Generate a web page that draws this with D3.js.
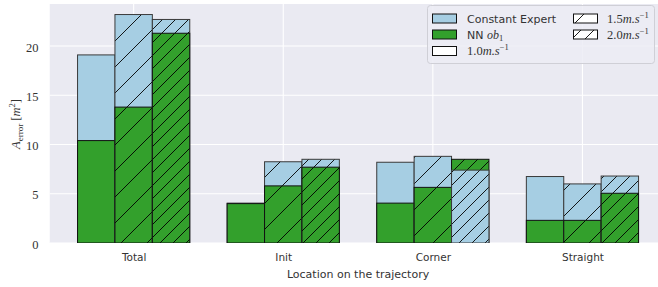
<!DOCTYPE html>
<html lang="en">
<head>
<meta charset="utf-8">
<title>A error by location</title>
<script src="https://cdn.jsdelivr.net/npm/d3@7"></script>
<style>
  body { margin: 0; background: #fff; }
  .serif { font-family: "Liberation Serif", "DejaVu Serif", serif; }
  .sans { font-family: "DejaVu Sans", "Open Sans", sans-serif; }
</style>
</head>
<body>
<div id="chart"></div>
<script>
// categories along x
let categories = ["Total", "Init", "Corner", "Straight"]
let speeds = ["1.0", "1.5", "2.0"]
let yTicks = [0, 5, 10, 15, 20]

// Constant Expert values, one array per speed
let expert10 = [19.1, 4.05, 8.2, 6.75]
let expert15 = [23.2, 8.25, 8.8, 6.0]
let expert20 = [22.7, 8.5, 7.4, 6.8]

// NN ob1 values, one array per speed
let nn10 = [10.4, 4.0, 4.05, 2.3]
let nn15 = [13.8, 5.8, 5.65, 2.3]
let nn20 = [21.3, 7.7, 8.5, 5.05]

let expert = [expert10, expert15, expert20]
let nn = [nn10, nn15, nn20]

let w = 658
let h = 287
let pLeft = 49.5, pTop = 4, pBottom = 243

let svg = d3.select("#chart").append("svg")
    .attr("width", w)
    .attr("height", h)

let x = d3.scaleLinear()
    .domain([-0.5625, 3.5625])
    .range([pLeft, pLeft + 4.125 * 149.6])
let y = d3.scaleLinear()
    .domain([0, 24.27])
    .range([pBottom, pTop])
let bw = x(0.25) - x(0)

// hatch patterns, '/' and '//'
let defs = svg.append("defs")
function hatch(id, p) {
  let pat = defs.append("pattern")
      .attr("id", id)
      .attr("patternUnits", "userSpaceOnUse")
      .attr("width", p).attr("height", p)
  pat.append("path")
      .attr("d", `M0,${p} L${p},0 M-2,2 L2,-2 M${p - 2},${p + 2} L${p + 2},${p - 2}`)
      .attr("stroke", "#000")
      .attr("stroke-width", 0.9)
}
hatch("h15", 26)
hatch("h20", 13)
let hatchFor = [null, "url(#h15)", "url(#h20)"]

defs.append("clipPath").attr("id", "plot")
  .append("rect").attr("x", pLeft).attr("y", pTop)
  .attr("width", w - pLeft).attr("height", pBottom - pTop)

let g = svg.append("g").attr("clip-path", "url(#plot)")
g.append("rect")
    .attr("x", pLeft).attr("y", pTop)
    .attr("width", w - pLeft).attr("height", pBottom - pTop)
    .attr("fill", "#eaeaf2")

// grid
g.selectAll(".hg").data(yTicks).enter().append("line")
    .attr("x1", pLeft).attr("x2", w)
    .attr("y1", d => y(d)).attr("y2", d => y(d))
    .attr("stroke", "#fff").attr("stroke-width", 1.1)
g.selectAll(".vg").data(categories).enter().append("line")
    .attr("x1", (d, i) => x(i)).attr("x2", (d, i) => x(i))
    .attr("y1", pTop).attr("y2", pBottom)
    .attr("stroke", "#fff").attr("stroke-width", 1.1)

// build bars: for each category & speed, two overlapping bars, taller one drawn first
let bars = []
categories.forEach(function(c, i) {
  speeds.forEach(function(s, j) {
    let pair = [
      {v: expert[j][i], fill: "#a6cee3", edge: "#3a3a3a"},
      {v: nn[j][i], fill: "#33a02c", edge: "#111"}
    ]
    pair.sort((a, b) => b.v - a.v)
    pair.forEach(p => bars.push({i: i, j: j, v: p.v, fill: p.fill, edge: p.edge}))
  })
})

bars.forEach(function(d) {
  let bx = x(d.i + (d.j - 1) * 0.25) - bw / 2
  let by = y(d.v)
  let bh = y(0) - y(d.v)
  g.append("rect")
      .attr("x", bx).attr("y", by).attr("width", bw).attr("height", bh)
      .attr("fill", d.fill)
  if (hatchFor[d.j]) {
    g.append("rect")
        .attr("x", bx).attr("y", by).attr("width", bw).attr("height", bh)
        .attr("fill", hatchFor[d.j])
  }
  g.append("rect")
      .attr("x", bx).attr("y", by).attr("width", bw).attr("height", bh)
      .attr("fill", "none")
      .attr("stroke", d.edge).attr("stroke-width", 1)
})

// axes
let yAxis = svg.append("g")
    .attr("transform", `translate(${pLeft},0)`)
    .call(d3.axisLeft(y).tickValues(yTicks).tickSize(0).tickPadding(11))
yAxis.select(".domain").remove()
yAxis.selectAll("text").attr("class", "serif").attr("font-size", 12.5).attr("fill", "#333")
    .attr("dy", "0.4em")
yAxis.attr("font-family", null)

let xAxis = svg.append("g")
    .attr("transform", `translate(0,${pBottom})`)
    .call(d3.axisBottom(x).tickValues([0, 1, 2, 3]).tickFormat(i => categories[i]).tickSize(0).tickPadding(11))
xAxis.select(".domain").remove()
xAxis.selectAll("text").attr("class", "sans").attr("font-size", 10.5).attr("fill", "#333")
xAxis.attr("font-family", null)

svg.append("text")
    .attr("class", "sans")
    .attr("x", x(1.5)).attr("y", 278)
    .attr("text-anchor", "middle")
    .attr("font-size", 11).attr("fill", "#333")
    .text("Location on the trajectory")

let yl = svg.append("text")
    .attr("class", "serif")
    .attr("transform", "translate(20,124) rotate(-90)")
    .attr("text-anchor", "middle")
    .attr("font-size", 12.5).attr("fill", "#333")
yl.append("tspan").attr("font-style", "italic").text("A")
yl.append("tspan").attr("font-size", 9).attr("dy", 2.5).text("error")
yl.append("tspan").attr("dy", -2.5).text(" [")
yl.append("tspan").attr("font-style", "italic").text("m")
yl.append("tspan").attr("font-size", 8.5).attr("dy", -5).text("2")
yl.append("tspan").attr("dy", 5).text("]")

// legend
let lg = svg.append("g")
lg.append("rect")
    .attr("x", 427.5).attr("y", 5.5).attr("width", 227).attr("height", 58)
    .attr("rx", 3)
    .attr("fill", "rgba(236,236,244,0.85)")
    .attr("stroke", "#cfcfd6")

let legendItems = [
  {col: 0, row: 0, fill: "#a6cee3", hatch: null, label: "Constant Expert"},
  {col: 0, row: 1, fill: "#33a02c", hatch: null, label: "nn"},
  {col: 0, row: 2, fill: "#fff", hatch: null, label: "1.0"},
  {col: 1, row: 0, fill: "#fff", hatch: "url(#h15)", label: "1.5"},
  {col: 1, row: 1, fill: "#fff", hatch: "url(#h20)", label: "2.0"}
]
let rowY = [18.5, 34.5, 51]
legendItems.forEach(function(it) {
  let px = it.col === 0 ? 432.5 : 573.5
  let py = rowY[it.row] - 4.5
  lg.append("rect").attr("x", px).attr("y", py).attr("width", 24).attr("height", 9)
      .attr("fill", it.fill)
  if (it.hatch) {
    lg.append("rect").attr("x", px).attr("y", py).attr("width", 24).attr("height", 9)
        .attr("fill", it.hatch)
  }
  lg.append("rect").attr("x", px).attr("y", py).attr("width", 24).attr("height", 9)
      .attr("fill", "none").attr("stroke", "#111").attr("stroke-width", 1)
  let tx = it.col === 0 ? 467 : 607
  let t = lg.append("text").attr("x", tx).attr("y", rowY[it.row] + 4)
      .attr("font-size", 11).attr("fill", "#333")
  if (it.label === "Constant Expert") {
    t.attr("class", "sans").text("Constant Expert")
  } else if (it.label === "nn") {
    t.attr("class", "sans").append("tspan").text("NN ")
    t.append("tspan").attr("class", "serif").attr("font-size", 12).attr("font-style", "italic").text("ob")
    t.append("tspan").attr("class", "serif").attr("font-size", 8.5).attr("dy", 2.5).text("1")
  } else {
    t.attr("class", "serif").attr("font-size", 12.5)
    t.append("tspan").text(it.label)
    t.append("tspan").attr("font-style", "italic").text("m.s")
    t.append("tspan").attr("font-size", 8.5).attr("dy", -5).text("\u22121")
  }
})
</script>
</body>
</html>
